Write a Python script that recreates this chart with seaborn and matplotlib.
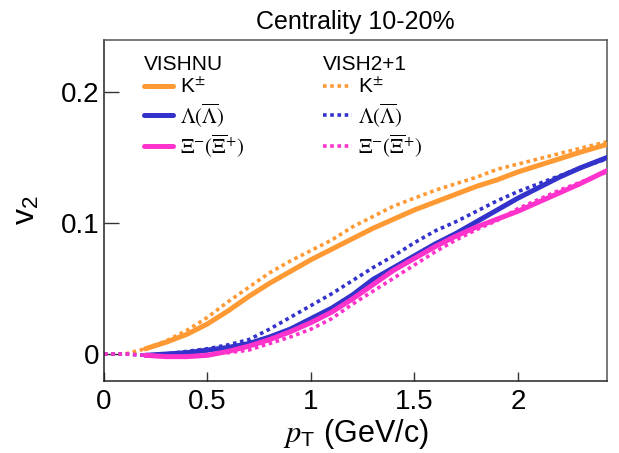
import matplotlib
matplotlib.use("Agg")
import matplotlib.pyplot as plt
import seaborn as sns
import pandas as pd

# ---------------- data ----------------
pt = [0.2, 0.3, 0.4, 0.5, 0.6, 0.7, 0.8, 0.9, 1.0, 1.1, 1.2, 1.3, 1.4,
      1.5, 1.6, 1.7, 1.8, 1.9, 2.0, 2.1, 2.2, 2.3, 2.43]
pt_vish2 = [0.0, 0.1] + pt

# VISHNU (solid)
k_vishnu = [0.004, 0.009, 0.015, 0.023, 0.033, 0.044, 0.054, 0.063, 0.072,
            0.080, 0.088, 0.096, 0.103, 0.110, 0.116, 0.122, 0.128, 0.133,
            0.139, 0.144, 0.149, 0.154, 0.160]
lam_vishnu = [-0.001, 0.000, 0.001, 0.003, 0.005, 0.008, 0.013, 0.019, 0.027,
              0.035, 0.045, 0.057, 0.066, 0.075, 0.084, 0.092, 0.101, 0.110,
              0.119, 0.127, 0.135, 0.142, 0.150]
xi_vishnu = [-0.001, -0.002, -0.002, -0.001, 0.002, 0.006, 0.011, 0.017, 0.024,
             0.032, 0.042, 0.053, 0.064, 0.073, 0.082, 0.090, 0.097, 0.103,
             0.109, 0.116, 0.123, 0.130, 0.140]

# VISH2+1 (dotted)
k_vish2 = [0.0, 0.0, 0.004, 0.010, 0.018, 0.028, 0.040, 0.051, 0.062, 0.071,
           0.079, 0.087, 0.097, 0.105, 0.113, 0.119, 0.125, 0.130, 0.135,
           0.141, 0.145, 0.149, 0.153, 0.157, 0.162]
lam_vish2 = [0.0, 0.0, -0.001, 0.000, 0.002, 0.004, 0.007, 0.011, 0.019, 0.028,
             0.037, 0.046, 0.056, 0.066, 0.075, 0.085, 0.094, 0.101, 0.109,
             0.117, 0.124, 0.130, 0.136, 0.142, 0.149]
xi_vish2 = [0.0, 0.0, -0.001, -0.002, -0.002, 0.000, 0.001, 0.003, 0.008, 0.013,
            0.019, 0.027, 0.038, 0.048, 0.058, 0.068, 0.078, 0.087, 0.095,
            0.102, 0.111, 0.118, 0.125, 0.131, 0.139]

labels = [r"K$^{\pm}$", r"$\Lambda(\overline{\Lambda})$",
          r"$\Xi^{-}(\overline{\Xi}^{+})$"]
colors = ["#ff9933", "#3333cc", "#ff33cc"]

xticks = [0, 0.5, 1, 1.5, 2]
xticklabels = ["0", "0.5", "1", "1.5", "2"]
yticks = [0, 0.1, 0.2]
yticklabels = ["0", "0.1", "0.2"]

# ---------------- style ----------------
sns.set_style("ticks")
plt.rcParams["font.family"] = ["Liberation Sans", "DejaVu Sans"]
plt.rcParams["mathtext.fontset"] = "stix"
plt.rcParams["text.color"] = "black"
plt.rcParams["axes.labelcolor"] = "black"
plt.rcParams["xtick.color"] = "black"
plt.rcParams["ytick.color"] = "black"

fig = plt.figure(figsize=(6.19, 4.53), dpi=100)
W, H = 619, 453
ax = fig.add_axes([104 / W, 1 - 381 / H, (607 - 104) / W, (381 - 40) / H])

# dotted VISH2+1 first (below)
dot_handles = []
for ys, c in zip([k_vish2, lam_vish2, xi_vish2], colors):
    sns.lineplot(x=pt_vish2, y=ys, ax=ax, color=c, lw=2.6,
                 linestyle=(0, (1, 1)), estimator=None, sort=False,
                 legend=False, zorder=2)
    dot_handles.append(ax.lines[-1])

solid_handles = []
for ys, c in zip([k_vishnu, lam_vishnu, xi_vishnu], colors):
    sns.lineplot(x=pt, y=ys, ax=ax, color=c, lw=3.6, linestyle="-",
                 estimator=None, sort=False, legend=False, zorder=3)
    solid_handles.append(ax.lines[-1])

ax.set_xlim(0, 2.43)
ax.set_ylim(-0.0206, 0.2397)
ax.set_xticks(xticks)
ax.set_xticklabels(xticklabels)
ax.set_yticks(yticks)
ax.set_yticklabels(yticklabels)
ax.tick_params(axis="both", direction="in", labelsize=20, width=1.0,
               color="#333333", labelcolor="black")
ax.tick_params(axis="y", length=11, pad=3)
ax.tick_params(axis="x", length=6.5, pad=6)

for s in ["left", "bottom"]:
    ax.spines[s].set_color("#222222")
    ax.spines[s].set_linewidth(1.1)
for s in ["top", "right"]:
    ax.spines[s].set_color("#555555")
    ax.spines[s].set_linewidth(1.1)

ax.set_xlabel(r"$p_{\mathregular{T}}$ (GeV/c)", fontsize=22, labelpad=1)
ax.set_ylabel(r"v$_{\mathregular{2}}$", fontsize=23, labelpad=14)
ax.set_title("Centrality 10-20%", fontsize=18, pad=8)

common = dict(loc="upper left", frameon=False, fontsize=15, title_fontsize=15,
              alignment="left", handlelength=1.4, handletextpad=0.3,
              labelspacing=0.17, borderaxespad=0, borderpad=0)
leg1 = ax.legend(solid_handles, labels, title="VISHNU",
                 bbox_to_anchor=(0.08, 0.955), **common)
ax.add_artist(leg1)
leg2 = ax.legend(dot_handles, labels, title="VISH2+1",
                 bbox_to_anchor=(0.435, 0.955), **common)

fig.savefig("out.png", dpi=100)
